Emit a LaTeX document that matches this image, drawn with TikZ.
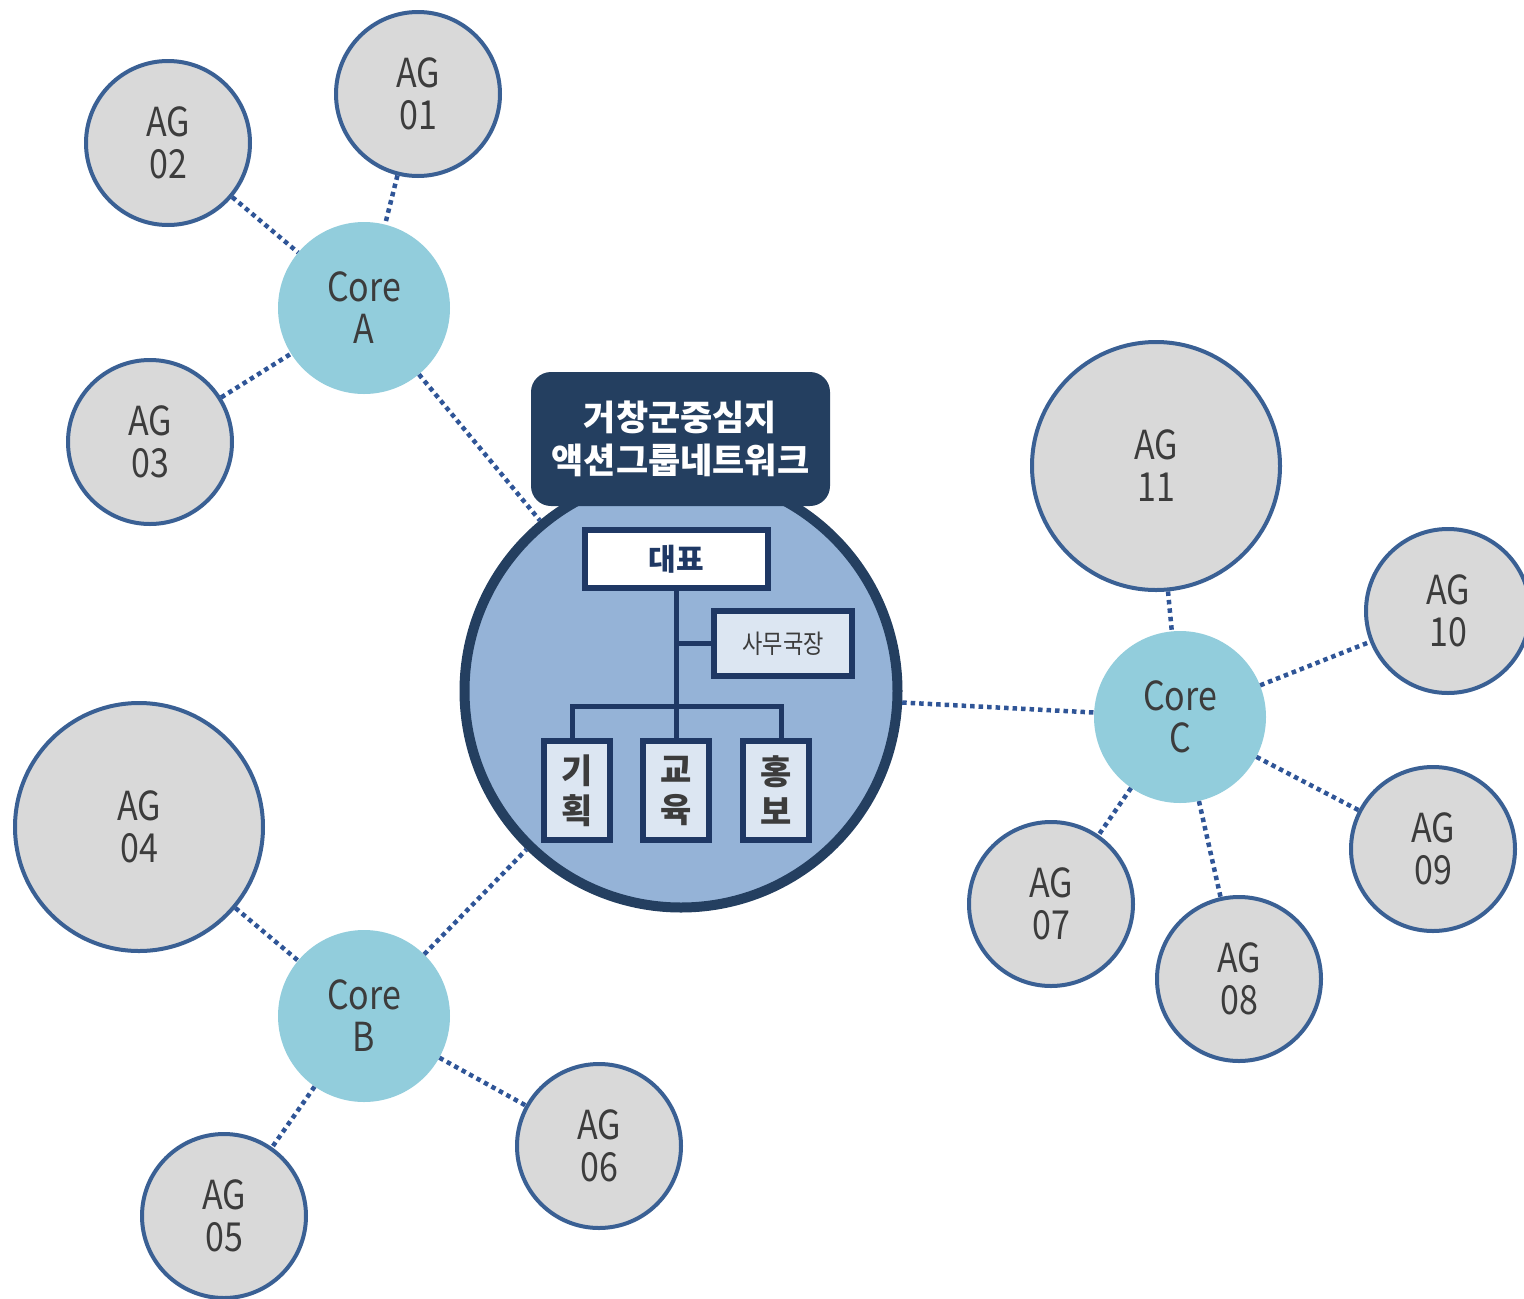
\documentclass[tikz,border=0pt]{standalone}
\usepackage{fontspec}
\newfontfamily\agfont[FakeStretch=0.85]{Noto Sans CJK KR}
\newfontfamily\krfont{Noto Sans CJK KR}
\definecolor{aggray}{RGB}{217,217,217}
\definecolor{agline}{RGB}{58,96,148}
\definecolor{linkblue}{RGB}{47,85,151}
\definecolor{corefill}{RGB}{146,205,220}
\definecolor{hubfill}{RGB}{149,179,215}
\definecolor{hubline}{RGB}{36,63,96}
\definecolor{navy}{RGB}{31,56,100}
\definecolor{lightbox}{RGB}{220,230,242}
\definecolor{textgray}{RGB}{60,60,60}
\begin{document}
\begin{tikzpicture}[x=1pt,y=-1pt,
  ag/.style={circle, draw=agline, line width=4pt, fill=aggray, minimum size=164pt, inner sep=0pt,
    align=center, text=textgray, font=\agfont\fontsize{40}{42}\selectfont},
  agbig/.style={ag, minimum size=248pt},
  core/.style={circle, fill=corefill, minimum size=172pt, inner sep=0pt,
    align=center, text=textgray, font=\agfont\fontsize{40}{42}\selectfont},
  link/.style={draw=linkblue, line width=4.5pt, dash pattern=on 4.5pt off 4pt},
  orgbox/.style={draw=navy, line width=6pt, fill=lightbox, inner sep=0pt, align=center},
  orgline/.style={draw=navy, line width=5pt}
]
\useasboundingbox (0,0) rectangle (1524,1299);

% hub
\node[circle, draw=hubline, fill=hubfill, line width=10pt, minimum size=433pt, inner sep=0pt] (hub) at (681,691) {};

% core nodes
\node[core] (coreA) at (364,308) {Core\\A};
\node[core] (coreB) at (364,1016) {Core\\B};
\node[core] (coreC) at (1180,717) {Core\\C};

% AG nodes
\node[ag] (ag01) at (418,94) {AG\\01};
\node[ag] (ag02) at (168,143) {AG\\02};
\node[ag] (ag03) at (150,442) {AG\\03};
\node[agbig] (ag04) at (139,827) {AG\\04};
\node[ag] (ag05) at (224,1216) {AG\\05};
\node[ag] (ag06) at (599,1146) {AG\\06};
\node[ag] (ag07) at (1051,904) {AG\\07};
\node[ag] (ag08) at (1239,979) {AG\\08};
\node[ag] (ag09) at (1433,849) {AG\\09};
\node[ag] (ag10) at (1448,611) {AG\\10};
\node[agbig] (ag11) at (1156,466) {AG\\11};

% links
\draw[link] (ag01) -- (coreA);
\draw[link] (ag02) -- (coreA);
\draw[link] (ag03) -- (coreA);
\draw[link] (coreA) -- (hub);
\draw[link] (ag04) -- (coreB);
\draw[link] (coreB) -- (hub);
\draw[link] (coreB) -- (ag05);
\draw[link] (coreB) -- (ag06);
\draw[link] (hub) -- (coreC);
\draw[link] (ag11) -- (coreC);
\draw[link] (coreC) -- (ag10);
\draw[link] (coreC) -- (ag09);
\draw[link] (coreC) -- (ag07);
\draw[link] (coreC) -- (ag08);

% title
\node[fill=hubline, rounded corners=20pt, minimum width=299pt, minimum height=134pt, inner sep=0pt,
  align=center, text=white, font=\krfont\bfseries\fontsize{35}{43}\selectfont] (title) at (680.5,439)
  {거창군중심지\\액션그룹네트워크};

% org chart
\node[orgbox, fill=white, minimum width=183pt, minimum height=58pt, text=navy,
  font=\krfont\bfseries\fontsize{30}{32}\selectfont] (daepyo) at (676.5,559) {대표};
\node[orgbox, minimum width=138pt, minimum height=65pt, text=textgray,
  font=\agfont\fontsize{26}{28}\selectfont] (samu) at (783,643.5) {사무국장};
\node[orgbox, minimum width=66pt, minimum height=99pt, text=textgray,
  font=\krfont\bfseries\fontsize{34}{40}\selectfont] (gihoek) at (577,790.5) {기\\획};
\node[orgbox, minimum width=66pt, minimum height=99pt, text=textgray,
  font=\krfont\bfseries\fontsize{34}{40}\selectfont] (gyoyuk) at (676,790.5) {교\\육};
\node[orgbox, minimum width=66pt, minimum height=99pt, text=textgray,
  font=\krfont\bfseries\fontsize{34}{40}\selectfont] (hongbo) at (776,790.5) {홍\\보};

\coordinate (barL) at (572,706);
\coordinate (barR) at (781,706);
\draw[orgline] (daepyo.south) -- (daepyo.south |- gyoyuk.north);
\draw[orgline] (samu.west) -- (samu.west -| daepyo.south);
\draw[orgline] (barL |- gihoek.north) -- (barL) -- (barR) -- (barR |- hongbo.north);
\end{tikzpicture}
\end{document}
